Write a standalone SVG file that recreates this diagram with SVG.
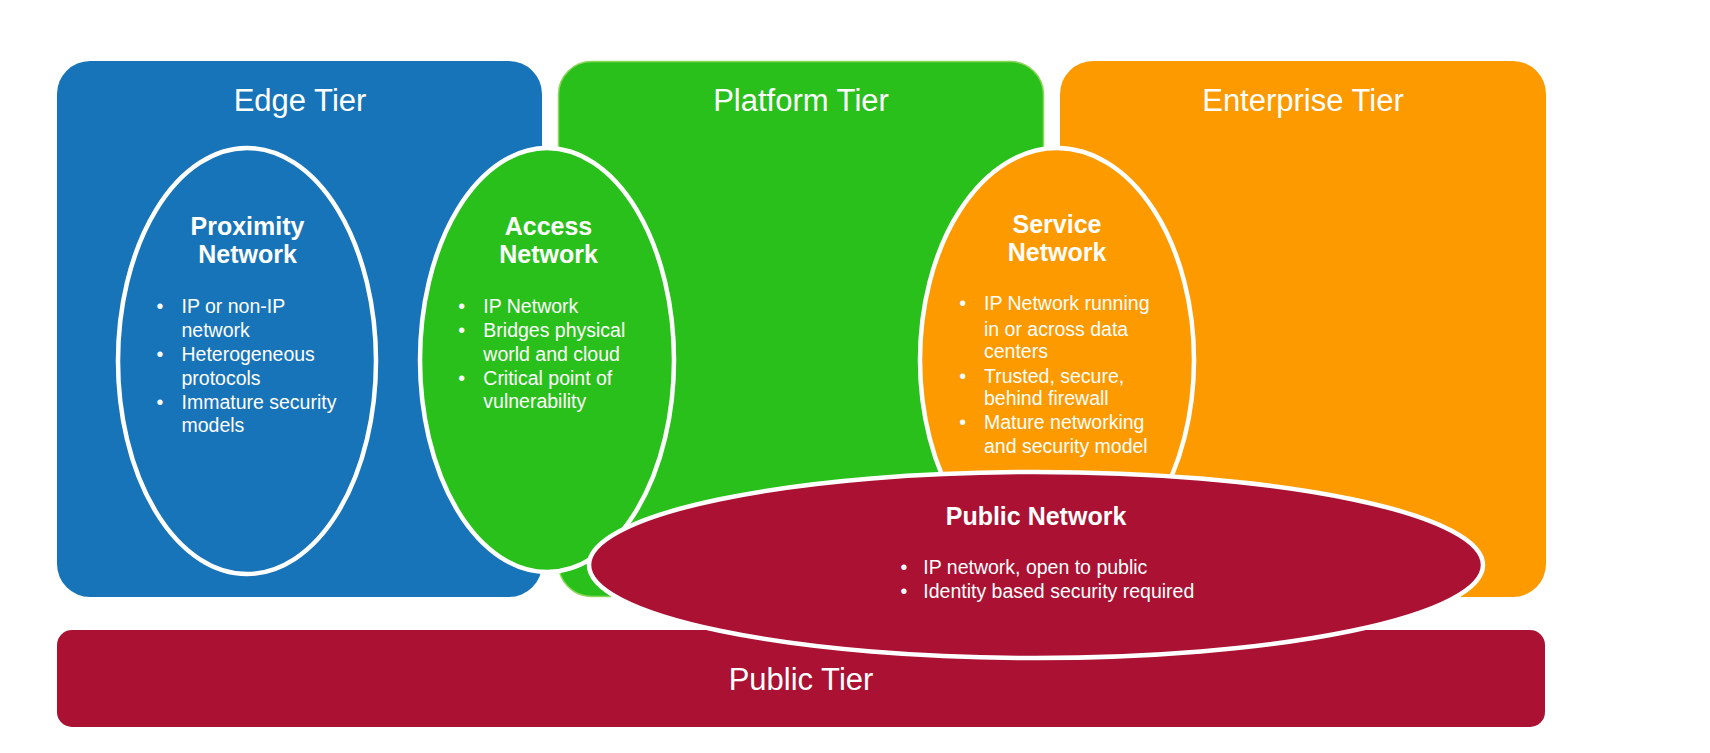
<svg xmlns="http://www.w3.org/2000/svg" width="1710" height="753" viewBox="0 0 1710 753">
<style>
.tier{font-family:"Liberation Sans",Arial,sans-serif;font-size:31px;fill:#fff;text-anchor:middle}
.ttl{font-family:"Liberation Sans",Arial,sans-serif;font-size:25px;font-weight:bold;fill:#fff;text-anchor:middle}
.b{font-family:"Liberation Sans",Arial,sans-serif;font-size:19.5px;fill:#fff}
.net{stroke:#fff;stroke-width:4.5}
</style>
<rect width="1710" height="753" fill="#fff"/>
<g id="edge-tier">
<rect x="57" y="61" width="485" height="536" rx="33" fill="#1874B8"/>
<text class="tier" x="300" y="111">Edge Tier</text>
</g>
<g id="platform-tier">
<rect x="558.5" y="61.5" width="485" height="535" rx="33" fill="#2AC01C" stroke="#8CD65A" stroke-width="1.5"/>
<text class="tier" x="801" y="111">Platform Tier</text>
</g>
<g id="enterprise-tier">
<rect x="1060" y="61" width="486" height="536" rx="33" fill="#FD9A00"/>
<text class="tier" x="1303" y="111">Enterprise Tier</text>
</g>
<g id="public-tier">
<rect x="57" y="630" width="1488" height="97" rx="15" fill="#AA1133"/>
<text class="tier" x="801" y="690">Public Tier</text>
</g>
<g id="proximity-network">
<ellipse class="net" cx="247" cy="361" rx="129" ry="213" fill="#1874B8"/>
<text class="ttl" x="247.5" y="235">Proximity</text>
<text class="ttl" x="247.5" y="263">Network</text>
<text class="b" x="156.5" y="313">•</text><text class="b" x="181.5" y="313">IP or non-IP</text>
<text class="b" x="181.5" y="337">network</text>
<text class="b" x="156.5" y="361">•</text><text class="b" x="181.5" y="361">Heterogeneous</text>
<text class="b" x="181.5" y="384.5">protocols</text>
<text class="b" x="156.5" y="408.5">•</text><text class="b" x="181.5" y="408.5">Immature security</text>
<text class="b" x="181.5" y="432">models</text>
</g>
<g id="access-network">
<ellipse class="net" cx="547" cy="360" rx="127" ry="212" fill="#2AC01C"/>
<text class="ttl" x="548.5" y="235">Access</text>
<text class="ttl" x="548.5" y="263">Network</text>
<text class="b" x="458.3" y="313">•</text><text class="b" x="483.3" y="313">IP Network</text>
<text class="b" x="458.3" y="337.3">•</text><text class="b" x="483.3" y="337.3">Bridges physical</text>
<text class="b" x="483.3" y="360.7">world and cloud</text>
<text class="b" x="458.3" y="385">•</text><text class="b" x="483.3" y="385">Critical point of</text>
<text class="b" x="483.3" y="407.5">vulnerability</text>
</g>
<g id="service-network">
<ellipse class="net" cx="1057" cy="360" rx="137" ry="212" fill="#FD9A00"/>
<text class="ttl" x="1057" y="232.7">Service</text>
<text class="ttl" x="1057" y="261">Network</text>
<text class="b" x="959.3" y="310">•</text><text class="b" x="984" y="310">IP Network running</text>
<text class="b" x="984" y="335.7">in or across data</text>
<text class="b" x="984" y="357.7">centers</text>
<text class="b" x="959.3" y="382.7">•</text><text class="b" x="984" y="382.7">Trusted, secure,</text>
<text class="b" x="984" y="405">behind firewall</text>
<text class="b" x="959.3" y="429.3">•</text><text class="b" x="984" y="429.3">Mature networking</text>
<text class="b" x="984" y="452.7">and security model</text>
</g>
<g id="public-network">
<ellipse class="net" cx="1036" cy="565" rx="447" ry="93" fill="#AA1133"/>
<text class="ttl" x="1036" y="525">Public Network</text>
<text class="b" x="900.6" y="574.3">•</text><text class="b" x="923.3" y="574.3">IP network, open to public</text>
<text class="b" x="900.6" y="598.3">•</text><text class="b" x="923.3" y="598.3">Identity based security required</text>
</g>
<g id="connectors"/>
</svg>
